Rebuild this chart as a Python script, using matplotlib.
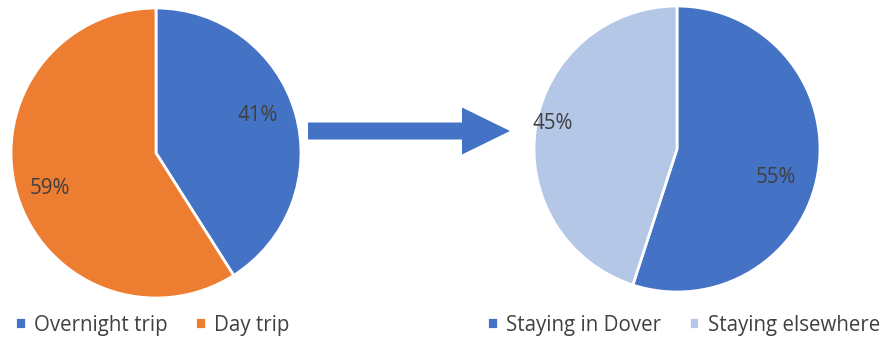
import numpy as np
import matplotlib.pyplot as plt
from matplotlib.patches import FancyArrow

plt.rcParams['font.family'] = ['Open Sans', 'DejaVu Sans']

# trip type split
trip_labels = ['Overnight trip', 'Day trip']
trip_values = [41, 59]
trip_colors = ['#4472C4', '#ED7D31']

# where overnight visitors stay
stay_labels = ['Staying in Dover', 'Staying elsewhere']
stay_values = [55, 45]
stay_colors = ['#4472C4', '#B4C7E7']

W, H = 882, 339
fig = plt.figure(figsize=(W / 100, H / 100), dpi=100)
txt = '#404040'
fs = 14.8


def px_axes(cx, cy, r):
    # axes box in pixels, y measured from top
    return fig.add_axes([(cx - r) / W, (H - cy - r) / H, 2 * r / W, 2 * r / H])


def draw_pie(ax, values, colors, label_r, label_shift):
    wedges, _ = ax.pie(values, colors=colors, startangle=90, counterclock=False,
                       wedgeprops=dict(edgecolor='white', linewidth=2))
    for w, v, lr, sh in zip(wedges, values, label_r, label_shift):
        ang = np.deg2rad((w.theta1 + w.theta2) / 2 + sh)
        ax.text(lr * np.cos(ang), lr * np.sin(ang), f'{v}%', ha='center',
                va='center', fontsize=fs, color=txt)
    ax.set_xlim(-1, 1)
    ax.set_ylim(-1, 1)
    ax.set_aspect('equal')
    return wedges


ax1 = px_axes(156, 153, 145)
w1 = draw_pie(ax1, trip_values, trip_colors, [0.75, 0.77], [4, 2.5])
ax2 = px_axes(677, 149, 143)
w2 = draw_pie(ax2, stay_values, stay_colors, [0.72, 0.885], [-7, -2.5])

# arrow between the pies
axa = fig.add_axes([0, 0, 1, 1], zorder=-1)
axa.set_xlim(0, W)
axa.set_ylim(0, H)
axa.axis('off')
axa.add_patch(FancyArrow(308, H - 131, 202, 0, width=17, head_width=47,
                         head_length=48, length_includes_head=True,
                         color='#4472C4', linewidth=0))

leg_kw = dict(ncol=2, frameon=False, fontsize=fs, labelcolor=txt,
              handlelength=0.52, handleheight=0.52, handletextpad=0.4,
              columnspacing=1.35, borderaxespad=0, borderpad=0)
fig.legend(w1, trip_labels, loc='center left',
           bbox_to_anchor=(15 / W, 1 - 325 / H), **leg_kw)
fig.legend(w2, stay_labels, loc='center left',
           bbox_to_anchor=(487 / W, 1 - 325 / H), **leg_kw)

fig.savefig('out.png', dpi=100)
